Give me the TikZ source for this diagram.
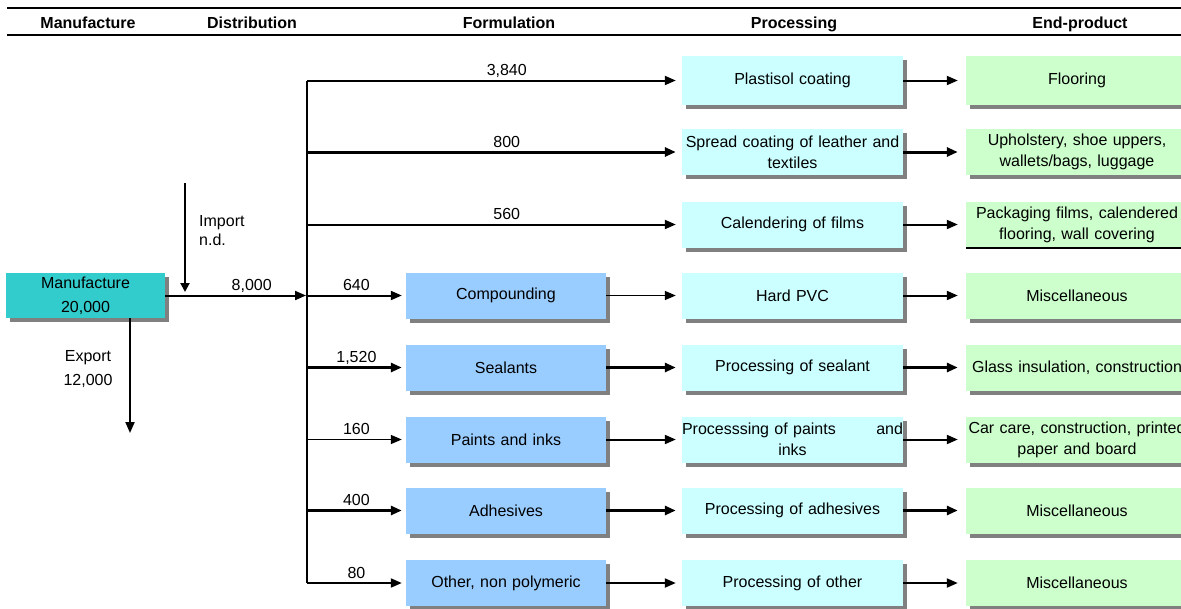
\documentclass[tikz,border=0pt]{standalone}
\usepackage{fontspec}
\setmainfont{Liberation Sans}
\usetikzlibrary{arrows.meta,shadows}
\definecolor{manufc}{HTML}{33CCCC}
\definecolor{formc}{HTML}{99CCFF}
\definecolor{procc}{HTML}{CCFFFF}
\definecolor{endc}{HTML}{CCFFCC}
\definecolor{shadowc}{HTML}{808080}
\begin{document}
\begin{tikzpicture}[x=1pt,y=-1pt,
  every node/.style={font=\fontsize{16}{21}\selectfont, inner sep=0pt},
  shd/.style={drop shadow={shadow xshift=4pt, shadow yshift=-4pt, fill=shadowc, opacity=1}},
  formbox/.style={shd, fill=formc, minimum width=200pt, minimum height=46pt, text width=200pt, align=center},
  procbox/.style={shd, fill=procc, minimum width=221pt, minimum height=46pt, text width=221pt, align=center},
  endbox/.style={fill=endc, minimum width=222pt, minimum height=46pt, text width=222pt, align=center},
  arr/.style={-{Triangle[length=11pt,width=9pt]}, line width=2pt, shorten >=6pt},
  thk/.style={line width=3pt},
  thn/.style={line width=1.6pt},
  lbl/.style={anchor=base, yshift=5pt},
  hdr/.style={anchor=base, font=\fontsize{16}{20}\selectfont\bfseries},
  plain/.style={anchor=base west}
]
\path[use as bounding box] (0,0) rectangle (1181,608);
\clip (0,0) rectangle (1181,608);

% header
\draw[line width=2pt] (7,8) -- (1181,8);
\draw[line width=2pt] (7,35) -- (1181,35);
\node[hdr] (h1) at (88,28) {Manufacture};
\node[hdr] (h2) at (252,28) {Distribution};
\node[hdr] (h3) at (509,28) {Formulation};
\node[hdr] (h4) at (794,28) {Processing};
\node[hdr] (h5) at (1080,28) {End-product};

% manufacture
\node[shd, fill=manufc, minimum width=159pt, minimum height=45pt, align=center,
      font=\fontsize{16}{24}\selectfont] (manuf) at (85.5,295.5) {Manufacture\\20,000};

% formulation boxes
\node[formbox] (f4) at (506,295.5) {Compounding};
\node[formbox] (f5) at (506,367.5) {Sealants};
\node[formbox] (f6) at (506,439.5) {Paints and inks};
\node[formbox] (f7) at (506,510.5) {Adhesives};
\node[formbox] (f8) at (506,583) {Other, non polymeric};

% processing boxes
\node[procbox, minimum height=49pt] (p1) at (792.5,80.5) {Plastisol coating};
\node[procbox] (p2) at (792.5,152) {Spread coating of leather and\\textiles};
\node[procbox] (p3) at (792.5,224.5) {Calendering of films};
\node[procbox] (p4) at (792.5,295.5) {Hard PVC};
\node[procbox] (p5) at (792.5,367.5) {Processing of sealant};
\node[procbox] (p6) at (792.5,439.5) {\hbox to \linewidth{Processsing of paints\hfill and}\\inks};
\node[procbox] (p7) at (792.5,510.5) {Processing of adhesives};
\node[procbox] (p8) at (792.5,583) {Processing of other};

% end-product boxes
\node[endbox, shd, minimum height=49pt] (e1) at (1077,80.5) {Flooring};
\node[endbox, shd] (e2) at (1077,152) {Upholstery, shoe uppers,\\wallets/bags, luggage};
\node[endbox] (e3) at (1077,224.5) {Packaging films, calendered\\flooring, wall covering};
\draw[line width=2pt] (e3.south west) -- (e3.south east);
\node[endbox, shd] (e4) at (1077,295.5) {Miscellaneous};
\node[endbox, shd] (e5) at (1077,367.5) {Glass insulation, construction};
\node[endbox, shd] (e6) at (1077,439.5) {Car care, construction, printed\\paper and board};
\node[endbox, shd] (e7) at (1077,510.5) {Miscellaneous};
\node[endbox, shd] (e8) at (1077,583) {Miscellaneous};

% bus
\coordinate (b1) at (307,80.5);
\coordinate (b2) at (307,152);
\coordinate (b3) at (307,224.5);
\coordinate (b4) at (307,295.5);
\coordinate (b5) at (307,367.5);
\coordinate (b6) at (307,439.5);
\coordinate (b7) at (307,510.5);
\coordinate (b8) at (307,583);
\draw[line width=2pt] (b1) -- (b8);

% import / export
\coordinate (imptop) at (185,183);
\coordinate (impend) at (185,292);
\draw[arr, shorten >=0pt, -{Triangle[length=9pt,width=9pt]}] (imptop) -- (impend);
\node[plain] (impl) at (199,226) {Import};
\node[plain] (impn) at (199,245) {n.d.};
\coordinate (exptip) at (130,433);
\draw[arr, shorten >=0pt] (manuf.south -| exptip) -- (exptip);
\node[align=center, font=\fontsize{16}{24}\selectfont] (expl) at (88,369.5) {Export\\12,000};

% manufacture to bus
\draw[arr, shorten >=1pt] (manuf.east) -- node[lbl, pos=.61] {8,000} (manuf.east -| b4);

% bus to processing (rows 1-3)
\draw[arr] (b1) -- node[lbl, pos=.533] {3,840} (b1 -| p1.west);
\draw[arr, thk] (b2) -- node[lbl, pos=.533] {800} (b2 -| p2.west);
\draw[arr] (b3) -- node[lbl, pos=.533] {560} (b3 -| p3.west);

% bus to formulation (rows 4-8)
\draw[arr, shorten >=4pt] (b4) -- node[lbl] {640} (b4 -| f4.west);
\draw[arr, thk, shorten >=4pt] (b5) -- node[lbl] {1,520} (b5 -| f5.west);
\draw[arr, thn, shorten >=4pt] (b6) -- node[lbl] {160} (b6 -| f6.west);
\draw[arr, thk, shorten >=4pt] (b7) -- node[lbl] {400} (b7 -| f7.west);
\draw[arr, shorten >=4pt] (b8) -- node[lbl] {80} (b8 -| f8.west);

% formulation to processing
\draw[arr, thn] (f4) -- (p4);
\draw[arr, thk] (f5) -- (p5);
\draw[arr] (f6) -- (p6);
\draw[arr, thk] (f7) -- (p7);
\draw[arr] (f8) -- (p8);

% processing to end-product
\draw[arr, shorten >=8pt] (p1) -- (e1);
\draw[arr, thk, shorten >=8pt] (p2) -- (e2);
\draw[arr, shorten >=8pt] (p3) -- (e3);
\draw[arr, shorten >=8pt] (p4) -- (e4);
\draw[arr, thk, shorten >=8pt] (p5) -- (e5);
\draw[arr, shorten >=8pt] (p6) -- (e6);
\draw[arr, thk, shorten >=8pt] (p7) -- (e7);
\draw[arr, shorten >=8pt] (p8) -- (e8);
\end{tikzpicture}
\end{document}
